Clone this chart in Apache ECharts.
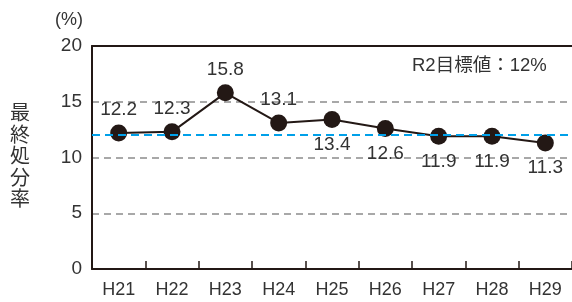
<!DOCTYPE html>
<html>
<head>
<meta charset="utf-8">
<script src="https://cdn.jsdelivr.net/npm/echarts@6/dist/echarts.min.js"></script>
<style>
  html, body { margin: 0; padding: 0; background: #fff; }
  #chart { width: 572px; height: 302px; }
</style>
</head>
<body>
<div id="chart"></div>
<script>
const years = ["H21", "H22", "H23", "H24", "H25", "H26", "H27", "H28", "H29"];
const rates = [12.2, 12.3, 15.8, 13.1, 13.4, 12.6, 11.9, 11.9, 11.3];
const target = 12;
const yTicks = [0, 5, 10, 15, 20];

const font = "'Liberation Sans', 'Noto Sans CJK JP', sans-serif";
const cjkFont = "'Noto Sans CJK JP', sans-serif";
const textColor = "#333";
const axisColor = "#231815";

const chart = echarts.init(document.getElementById("chart"));

const option = {
  animation: false,
  textStyle: { fontFamily: font },
  grid: { left: 92, top: 46, bottom: 33, width: 484 },
  xAxis: [
    {
      type: "category",
      data: years,
      boundaryGap: true,
      axisLine: { lineStyle: { color: axisColor, width: 2 } },
      axisTick: { show: true, inside: true, length: 8, lineStyle: { color: axisColor, width: 1.5 } },
      axisLabel: { color: textColor, fontSize: 18, margin: 12, fontFamily: font },
    },
    {
      type: "category",
      data: years,
      position: "top",
      axisLine: { lineStyle: { color: axisColor, width: 2 } },
      axisTick: { show: false },
      axisLabel: { show: false },
    },
  ],
  yAxis: {
    type: "value",
    min: yTicks[0],
    max: yTicks[yTicks.length - 1],
    interval: 5,
    axisLine: { show: true, lineStyle: { color: axisColor, width: 2 } },
    axisTick: { show: false },
    axisLabel: { color: textColor, fontSize: 19, margin: 10, fontFamily: font },
    splitLine: {
      lineStyle: { color: "#8c8c8c", width: 1.5, type: [7, 5] },
    },
  },
  graphic: [
    {
      type: "text",
      left: 10,
      top: 102,
      style: {
        text: "最\n終\n処\n分\n率",
        fontSize: 20,
        lineHeight: 21.5,
        fill: textColor,
        fontFamily: cjkFont,
      },
    },
    {
      type: "text",
      left: 55,
      top: 11,
      style: { text: "(%)", fontSize: 18, fill: textColor, fontFamily: font },
    },
    {
      type: "text",
      left: 412,
      top: 57,
      style: { text: "R2目標値：12%", fontSize: 18.5, fill: textColor, fontFamily: font },
    },
  ],
  series: [
    {
      type: "line",
      data: rates.map((v, i) => ({
        value: v,
        label: { position: i < 4 ? "top" : "bottom", distance: i < 4 ? 5 : 7 },
      })),
      symbol: "circle",
      symbolSize: 17,
      lineStyle: { color: axisColor, width: 2 },
      itemStyle: { color: axisColor },
      label: {
        show: true,
        fontSize: 19,
        color: textColor,
        fontFamily: font,
      },
      markLine: {
        silent: true,
        symbol: "none",
        label: { show: false },
        lineStyle: { color: "#00a0e9", width: 2, type: [8, 5] },
        data: [{ yAxis: target }],
      },
      z: 3,
    },
  ],
};

chart.setOption(option);
</script>
</body>
</html>
